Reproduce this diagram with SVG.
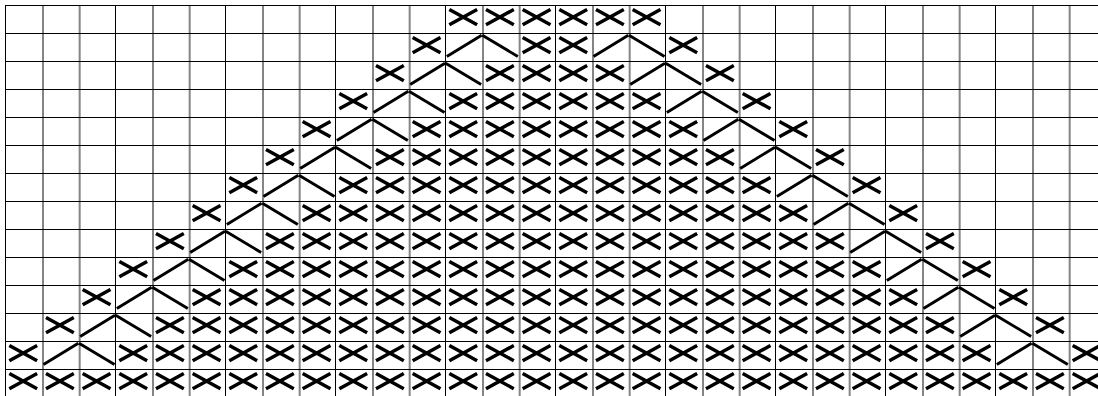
<svg xmlns="http://www.w3.org/2000/svg" width="1098" height="396" viewBox="0 0 1098 396">
<style>
.h{stroke:#000;stroke-width:1}
.vb{stroke:#000;stroke-width:1}
.vg{stroke:#858585;stroke-width:2}
.sym{fill:none;stroke:#000;stroke-linecap:butt}
#x{stroke-width:3.5}
#c{stroke-width:2.9}
</style>
<defs>
<path id="x" class="sym" d="M4 4.5 L31.8 19.7 M4 19.7 L31.8 4.5"/>
<path id="c" class="sym" d="M1.5 23.5 L36.3 2.2 M37 2.2 L72.5 23.5"/>
</defs>
<rect width="1098" height="396" fill="#fff"/>
<g id="grid">
<g class="vg">
<line x1="43" y1="5" x2="43" y2="396"/><line x1="79.67" y1="5" x2="79.67" y2="396"/>
<line x1="153" y1="5" x2="153" y2="396"/><line x1="189.67" y1="5" x2="189.67" y2="396"/>
<line x1="263" y1="5" x2="263" y2="396"/><line x1="299.67" y1="5" x2="299.67" y2="396"/>
<line x1="373" y1="5" x2="373" y2="396"/><line x1="409.67" y1="5" x2="409.67" y2="396"/>
<line x1="483" y1="5" x2="483" y2="396"/><line x1="519.67" y1="5" x2="519.67" y2="396"/>
<line x1="593" y1="5" x2="593" y2="396"/><line x1="629.67" y1="5" x2="629.67" y2="396"/>
<line x1="703" y1="5" x2="703" y2="396"/><line x1="739.67" y1="5" x2="739.67" y2="396"/>
<line x1="813" y1="5" x2="813" y2="396"/><line x1="849.67" y1="5" x2="849.67" y2="396"/>
<line x1="923" y1="5" x2="923" y2="396"/><line x1="959.67" y1="5" x2="959.67" y2="396"/>
<line x1="1033" y1="5" x2="1033" y2="396"/><line x1="1069.67" y1="5" x2="1069.67" y2="396"/>
</g>
<g class="vb">
<line x1="5.5" y1="5" x2="5.5" y2="396"/><line x1="115.5" y1="5" x2="115.5" y2="396"/>
<line x1="225.5" y1="5" x2="225.5" y2="396"/><line x1="335.5" y1="5" x2="335.5" y2="396"/>
<line x1="445.5" y1="5" x2="445.5" y2="396"/><line x1="555.5" y1="5" x2="555.5" y2="396"/>
<line x1="665.5" y1="5" x2="665.5" y2="396"/><line x1="775.5" y1="5" x2="775.5" y2="396"/>
<line x1="885.5" y1="5" x2="885.5" y2="396"/><line x1="995.5" y1="5" x2="995.5" y2="396"/>
</g>
<g class="h">
<line x1="5" y1="5.5" x2="1098" y2="5.5"/><line x1="5" y1="33.5" x2="1098" y2="33.5"/>
<line x1="5" y1="61.5" x2="1098" y2="61.5"/><line x1="5" y1="89.5" x2="1098" y2="89.5"/>
<line x1="5" y1="117.5" x2="1098" y2="117.5"/><line x1="5" y1="145.5" x2="1098" y2="145.5"/>
<line x1="5" y1="173.5" x2="1098" y2="173.5"/><line x1="5" y1="201.5" x2="1098" y2="201.5"/>
<line x1="5" y1="229.5" x2="1098" y2="229.5"/><line x1="5" y1="257.5" x2="1098" y2="257.5"/>
<line x1="5" y1="285.5" x2="1098" y2="285.5"/><line x1="5" y1="313.5" x2="1098" y2="313.5"/>
<line x1="5" y1="341.5" x2="1098" y2="341.5"/><line x1="5" y1="369.5" x2="1098" y2="369.5"/>
</g>
</g>
<g id="symbols">
<g id="row0" transform="translate(0 5)">
<use href="#x" x="445.33"/><use href="#x" x="482"/><use href="#x" x="518.67"/><use href="#x" x="555.33"/><use href="#x" x="592"/><use href="#x" x="628.67"/>
</g>
<g id="row1" transform="translate(0 33)">
<use href="#x" x="408.67"/><use href="#c" x="445.33"/>
<use href="#x" x="518.67"/><use href="#x" x="555.33"/>
<use href="#c" x="592"/><use href="#x" x="665.33"/>
</g>
<g id="row2" transform="translate(0 61)">
<use href="#x" x="372"/><use href="#c" x="408.67"/>
<use href="#x" x="482"/><use href="#x" x="518.67"/><use href="#x" x="555.33"/><use href="#x" x="592"/>
<use href="#c" x="628.67"/><use href="#x" x="702"/>
</g>
<g id="row3" transform="translate(0 89)">
<use href="#x" x="335.33"/><use href="#c" x="372"/>
<use href="#x" x="445.33"/><use href="#x" x="482"/><use href="#x" x="518.67"/><use href="#x" x="555.33"/><use href="#x" x="592"/><use href="#x" x="628.67"/>
<use href="#c" x="665.33"/><use href="#x" x="738.67"/>
</g>
<g id="row4" transform="translate(0 117)">
<use href="#x" x="298.67"/><use href="#c" x="335.33"/>
<use href="#x" x="408.67"/><use href="#x" x="445.33"/><use href="#x" x="482"/><use href="#x" x="518.67"/><use href="#x" x="555.33"/><use href="#x" x="592"/><use href="#x" x="628.67"/><use href="#x" x="665.33"/>
<use href="#c" x="702"/><use href="#x" x="775.33"/>
</g>
<g id="row5" transform="translate(0 145)">
<use href="#x" x="262"/><use href="#c" x="298.67"/>
<use href="#x" x="372"/><use href="#x" x="408.67"/><use href="#x" x="445.33"/><use href="#x" x="482"/><use href="#x" x="518.67"/><use href="#x" x="555.33"/><use href="#x" x="592"/><use href="#x" x="628.67"/><use href="#x" x="665.33"/><use href="#x" x="702"/>
<use href="#c" x="738.67"/><use href="#x" x="812"/>
</g>
<g id="row6" transform="translate(0 173)">
<use href="#x" x="225.33"/><use href="#c" x="262"/>
<use href="#x" x="335.33"/><use href="#x" x="372"/><use href="#x" x="408.67"/><use href="#x" x="445.33"/><use href="#x" x="482"/><use href="#x" x="518.67"/><use href="#x" x="555.33"/><use href="#x" x="592"/><use href="#x" x="628.67"/><use href="#x" x="665.33"/><use href="#x" x="702"/><use href="#x" x="738.67"/>
<use href="#c" x="775.33"/><use href="#x" x="848.67"/>
</g>
<g id="row7" transform="translate(0 201)">
<use href="#x" x="188.67"/><use href="#c" x="225.33"/>
<use href="#x" x="298.67"/><use href="#x" x="335.33"/><use href="#x" x="372"/><use href="#x" x="408.67"/><use href="#x" x="445.33"/><use href="#x" x="482"/><use href="#x" x="518.67"/><use href="#x" x="555.33"/><use href="#x" x="592"/><use href="#x" x="628.67"/><use href="#x" x="665.33"/><use href="#x" x="702"/><use href="#x" x="738.67"/><use href="#x" x="775.33"/>
<use href="#c" x="812"/><use href="#x" x="885.33"/>
</g>
<g id="row8" transform="translate(0 229)">
<use href="#x" x="152"/><use href="#c" x="188.67"/>
<use href="#x" x="262"/><use href="#x" x="298.67"/><use href="#x" x="335.33"/><use href="#x" x="372"/><use href="#x" x="408.67"/><use href="#x" x="445.33"/><use href="#x" x="482"/><use href="#x" x="518.67"/><use href="#x" x="555.33"/><use href="#x" x="592"/><use href="#x" x="628.67"/><use href="#x" x="665.33"/><use href="#x" x="702"/><use href="#x" x="738.67"/><use href="#x" x="775.33"/><use href="#x" x="812"/>
<use href="#c" x="848.67"/><use href="#x" x="922"/>
</g>
<g id="row9" transform="translate(0 257)">
<use href="#x" x="115.33"/><use href="#c" x="152"/>
<use href="#x" x="225.33"/><use href="#x" x="262"/><use href="#x" x="298.67"/><use href="#x" x="335.33"/><use href="#x" x="372"/><use href="#x" x="408.67"/><use href="#x" x="445.33"/><use href="#x" x="482"/><use href="#x" x="518.67"/><use href="#x" x="555.33"/><use href="#x" x="592"/><use href="#x" x="628.67"/><use href="#x" x="665.33"/><use href="#x" x="702"/><use href="#x" x="738.67"/><use href="#x" x="775.33"/><use href="#x" x="812"/><use href="#x" x="848.67"/>
<use href="#c" x="885.33"/><use href="#x" x="958.67"/>
</g>
<g id="row10" transform="translate(0 285)">
<use href="#x" x="78.67"/><use href="#c" x="115.33"/>
<use href="#x" x="188.67"/><use href="#x" x="225.33"/><use href="#x" x="262"/><use href="#x" x="298.67"/><use href="#x" x="335.33"/><use href="#x" x="372"/><use href="#x" x="408.67"/><use href="#x" x="445.33"/><use href="#x" x="482"/><use href="#x" x="518.67"/><use href="#x" x="555.33"/><use href="#x" x="592"/><use href="#x" x="628.67"/><use href="#x" x="665.33"/><use href="#x" x="702"/><use href="#x" x="738.67"/><use href="#x" x="775.33"/><use href="#x" x="812"/><use href="#x" x="848.67"/><use href="#x" x="885.33"/>
<use href="#c" x="922"/><use href="#x" x="995.33"/>
</g>
<g id="row11" transform="translate(0 313)">
<use href="#x" x="42"/><use href="#c" x="78.67"/>
<use href="#x" x="152"/><use href="#x" x="188.67"/><use href="#x" x="225.33"/><use href="#x" x="262"/><use href="#x" x="298.67"/><use href="#x" x="335.33"/><use href="#x" x="372"/><use href="#x" x="408.67"/><use href="#x" x="445.33"/><use href="#x" x="482"/><use href="#x" x="518.67"/><use href="#x" x="555.33"/><use href="#x" x="592"/><use href="#x" x="628.67"/><use href="#x" x="665.33"/><use href="#x" x="702"/><use href="#x" x="738.67"/><use href="#x" x="775.33"/><use href="#x" x="812"/><use href="#x" x="848.67"/><use href="#x" x="885.33"/><use href="#x" x="922"/>
<use href="#c" x="958.67"/><use href="#x" x="1032"/>
</g>
<g id="row12" transform="translate(0 341)">
<use href="#x" x="5.33"/><use href="#c" x="42"/>
<use href="#x" x="115.33"/><use href="#x" x="152"/><use href="#x" x="188.67"/><use href="#x" x="225.33"/><use href="#x" x="262"/><use href="#x" x="298.67"/><use href="#x" x="335.33"/><use href="#x" x="372"/><use href="#x" x="408.67"/><use href="#x" x="445.33"/><use href="#x" x="482"/><use href="#x" x="518.67"/><use href="#x" x="555.33"/><use href="#x" x="592"/><use href="#x" x="628.67"/><use href="#x" x="665.33"/><use href="#x" x="702"/><use href="#x" x="738.67"/><use href="#x" x="775.33"/><use href="#x" x="812"/><use href="#x" x="848.67"/><use href="#x" x="885.33"/><use href="#x" x="922"/><use href="#x" x="958.67"/>
<use href="#c" x="995.33"/><use href="#x" x="1068.67"/>
</g>
<g id="row13" transform="translate(0 369)">
<use href="#x" x="5.33"/><use href="#x" x="42"/><use href="#x" x="78.67"/><use href="#x" x="115.33"/><use href="#x" x="152"/><use href="#x" x="188.67"/><use href="#x" x="225.33"/><use href="#x" x="262"/><use href="#x" x="298.67"/><use href="#x" x="335.33"/><use href="#x" x="372"/><use href="#x" x="408.67"/><use href="#x" x="445.33"/><use href="#x" x="482"/><use href="#x" x="518.67"/><use href="#x" x="555.33"/><use href="#x" x="592"/><use href="#x" x="628.67"/><use href="#x" x="665.33"/><use href="#x" x="702"/><use href="#x" x="738.67"/><use href="#x" x="775.33"/><use href="#x" x="812"/><use href="#x" x="848.67"/><use href="#x" x="885.33"/><use href="#x" x="922"/><use href="#x" x="958.67"/><use href="#x" x="995.33"/><use href="#x" x="1032"/><use href="#x" x="1068.67"/>
</g>
</g>
</svg>
